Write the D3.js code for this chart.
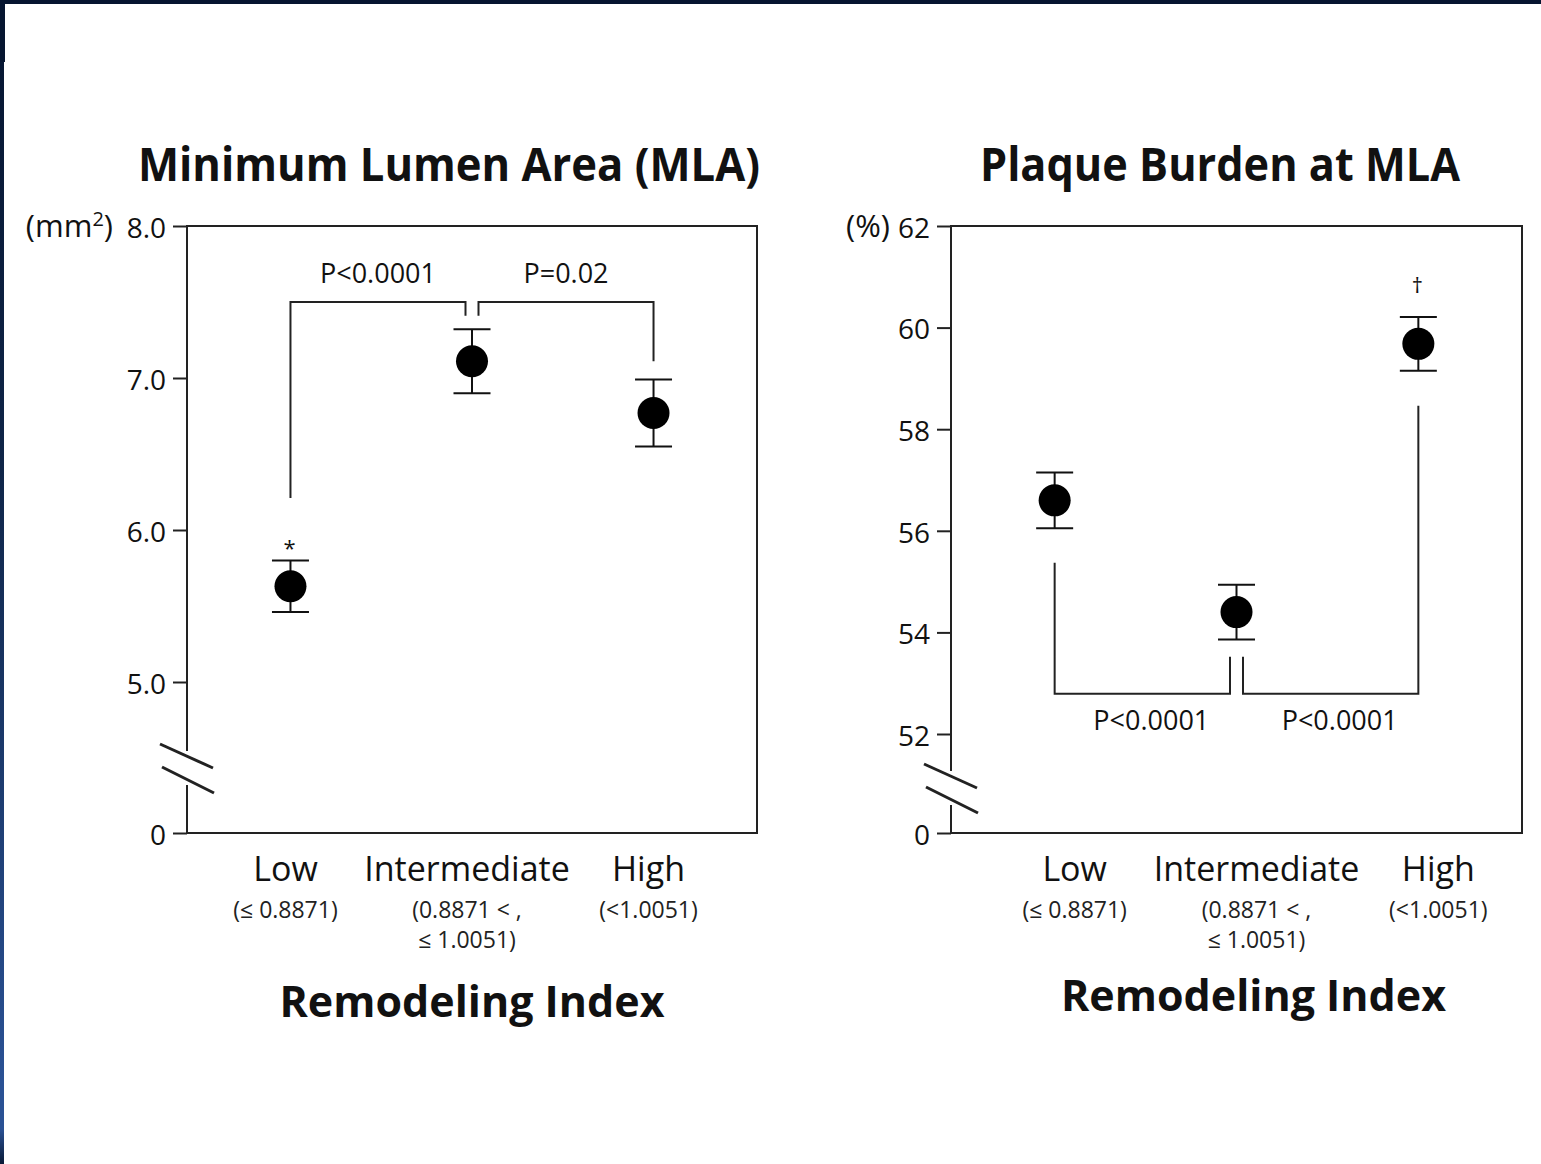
<!DOCTYPE html>
<html>
<head>
<meta charset="utf-8">
<script src="https://cdn.jsdelivr.net/npm/d3@7"></script>
<style>
  body { margin: 0; background: #fff; }
  text { font-family: "Open Sans", "Noto Sans", sans-serif; fill: #111; }
</style>
</head>
<body>
<div id="chart"></div>
<script>
const W = 1541, H = 1164;

// categories shared by both panels
const categories = ["Low", "Intermediate", "High"];
const catRanges = [["(\u2264 0.8871)"], ["(0.8871 < ,", "\u2264 1.0051)"], ["(<1.0051)"]];

// Minimum lumen area (mm2), mean and error
const mlaMean = [5.63, 7.11, 6.77];
const mlaErr = [0.17, 0.21, 0.22];
const mlaMarks = ["*", "", ""];
const mlaTicks = [0, 5, 6, 7, 8];
const mlaTickLabels = ["0", "5.0", "6.0", "7.0", "8.0"];

// Plaque burden at MLA (%), mean and error
const pbMean = [56.6, 54.4, 59.68];
const pbErr = [0.55, 0.54, 0.53];
const pbMarks = ["", "", "\u2020"];
const pbTicks = [0, 52, 54, 56, 58, 60, 62];
const pbTickLabels = ["0", "52", "54", "56", "58", "60", "62"];

// p-value brackets (values in data units)
const mlaBrackets = [
  { a: "Low", b: "Intermediate", footA: 6.21, footB: 7.41, bar: 7.5, label: "P<0.0001" },
  { a: "Intermediate", b: "High", footA: 7.41, footB: 7.11, bar: 7.5, label: "P=0.02" }
];
const pbBrackets = [
  { a: "Low", b: "Intermediate", footA: 55.37, footB: 53.52, bar: 52.79, label: "P<0.0001" },
  { a: "Intermediate", b: "High", footA: 53.52, footB: 58.46, bar: 52.79, label: "P<0.0001" }
];

const svg = d3.select("#chart").append("svg")
    .attr("width", W)
    .attr("height", H);

// slide frame
const defs = svg.append("defs");
const grad = defs.append("linearGradient").attr("id", "edge").attr("x1", 0).attr("y1", 0).attr("x2", 0).attr("y2", 1);
grad.append("stop").attr("offset", "0%").attr("stop-color", "#061530");
grad.append("stop").attr("offset", "40%").attr("stop-color", "#0f2548");
grad.append("stop").attr("offset", "93%").attr("stop-color", "#2a5194");
grad.append("stop").attr("offset", "97%").attr("stop-color", "#2a5194");
grad.append("stop").attr("offset", "100%").attr("stop-color", "#0a1a36");
svg.append("rect").attr("x", 0).attr("y", 0).attr("width", 4).attr("height", H).attr("fill", "url(#edge)");
svg.append("rect").attr("x", 0).attr("y", 0).attr("width", 5).attr("height", 62).attr("fill", "#061530");
svg.append("rect").attr("x", 0).attr("y", 0).attr("width", W).attr("height", 4).attr("fill", "#061530");

const panels = [
  {
    left: 187, top: 226, width: 570, height: 607,
    domain: [0, 5, 8], range: [607, 456, 0],
    ticks: mlaTicks, tickLabels: mlaTickLabels,
    mean: mlaMean, err: mlaErr, marks: mlaMarks, brackets: mlaBrackets,
    bracketLabelDy: -19, bracketLabelDx: 0,
    title: "Minimum Lumen Area (MLA)", titleX: 449, titleLen: 622,
    unit: ["(mm", "2", ")"], unitGap: 74,
    breakUp: 65, labelShift: -5, xTitleShift: 0, xTitleY: 1017
  },
  {
    left: 951, top: 226, width: 571, height: 607,
    domain: [0, 52, 62], range: [607, 508, 0],
    ticks: pbTicks, tickLabels: pbTickLabels,
    mean: pbMean, err: pbErr, marks: pbMarks, brackets: pbBrackets,
    bracketLabelDy: 36, bracketLabelDx: 9,
    title: "Plaque Burden at MLA", titleX: 1220, titleLen: 480,
    unit: ["(%)"], unitGap: 61,
    breakUp: 45, labelShift: 20, xTitleShift: 17, xTitleY: 1011
  }
];

panels.forEach(drawPanel);

function drawPanel(p) {
  const g = svg.append("g").attr("transform", `translate(${p.left},${p.top})`);

  const x = d3.scalePoint().domain(categories).range([0, p.width]).padding(0.57);
  const y = d3.scaleLinear().domain(p.domain).range(p.range);

  // y axis ticks
  const axis = g.append("g")
    .call(d3.axisLeft(y)
      .tickValues(p.ticks)
      .tickFormat((d, i) => p.tickLabels[i])
      .tickSize(14)
      .tickPadding(7));
  axis.select(".domain").remove();
  axis.selectAll(".tick line").attr("stroke", "#222").attr("stroke-width", 2);
  axis.selectAll(".tick text")
    .attr("dy", "0.4em")
    .style("font-family", "'Open Sans', sans-serif")
    .style("font-size", "28px")
    .attr("fill", "#222");

  // frame with the axis break
  const breakY = p.height - p.breakUp;
  const frame = g.append("g").attr("stroke", "#222").attr("stroke-width", 2).attr("fill", "none");
  frame.append("path").attr("d", `M0,${breakY - 17}V0H${p.width}V${p.height}H0V${breakY + 17}`);
  frame.append("line").attr("x1", -27).attr("y1", breakY - 24).attr("x2", 26).attr("y2", breakY)
    .attr("stroke-width", 3);
  frame.append("line").attr("x1", -25).attr("y1", breakY - 1).attr("x2", 27).attr("y2", breakY + 25)
    .attr("stroke-width", 3);

  // unit label
  const unit = g.append("text")
    .attr("x", -p.unitGap)
    .attr("y", 11)
    .attr("text-anchor", "end")
    .style("font-size", "31px")
    .text(p.unit[0]);
  if (p.unit.length > 1) {
    unit.append("tspan").attr("dy", -11).style("font-size", "20px").text(p.unit[1]);
    unit.append("tspan").attr("dy", 11).text(p.unit[2]);
  }

  // title
  g.append("text")
    .attr("x", p.titleX - p.left)
    .attr("y", -45)
    .attr("text-anchor", "middle")
    .attr("textLength", p.titleLen)
    .attr("lengthAdjust", "spacingAndGlyphs")
    .style("font-size", "47px")
    .style("font-weight", "bold")
    .text(p.title);

  // brackets
  p.brackets.forEach(b => {
    const xa = b.a === "Intermediate" ? x(b.a) + 6.5 : x(b.a);
    const xb = b.b === "Intermediate" ? x(b.b) - 6.5 : x(b.b);
    g.append("path")
      .attr("d", `M${xa},${y(b.footA)}V${y(b.bar)}H${xb}V${y(b.footB)}`)
      .attr("fill", "none")
      .attr("stroke", "#222")
      .attr("stroke-width", 2);
    g.append("text")
      .attr("x", (xa + xb) / 2 + p.bracketLabelDx)
      .attr("y", y(b.bar) + p.bracketLabelDy)
      .attr("text-anchor", "middle")
      .style("font-size", "27px")
      .attr("fill", "#222")
      .text(b.label);
  });

  // error bars and points
  const pts = g.selectAll(".pt")
    .data(categories.map((c, i) => ({ c: c, m: p.mean[i], e: p.err[i], mark: p.marks[i] })))
    .enter().append("g").attr("class", "pt");

  pts.append("line")
    .attr("x1", d => x(d.c)).attr("x2", d => x(d.c))
    .attr("y1", d => y(d.m + d.e)).attr("y2", d => y(d.m - d.e))
    .attr("stroke", "#111").attr("stroke-width", 2);
  pts.append("line")
    .attr("x1", d => x(d.c) - 18.5).attr("x2", d => x(d.c) + 18.5)
    .attr("y1", d => y(d.m + d.e)).attr("y2", d => y(d.m + d.e))
    .attr("stroke", "#111").attr("stroke-width", 2);
  pts.append("line")
    .attr("x1", d => x(d.c) - 18.5).attr("x2", d => x(d.c) + 18.5)
    .attr("y1", d => y(d.m - d.e)).attr("y2", d => y(d.m - d.e))
    .attr("stroke", "#111").attr("stroke-width", 2);
  pts.append("circle")
    .attr("cx", d => x(d.c))
    .attr("cy", d => y(d.m))
    .attr("r", 16)
    .attr("fill", "#000");
  pts.filter(d => d.mark).append("text")
    .attr("x", d => x(d.c) - 1)
    .attr("y", d => y(d.m + d.e) + (d.mark === "*" ? -4 : -24))
    .attr("text-anchor", "middle")
    .style("font-size", "22px")
    .text(d => d.mark);

  // category labels
  const lab = g.selectAll(".cat")
    .data(categories)
    .enter().append("text")
    .attr("class", "cat")
    .attr("x", d => x(d) + p.labelShift)
    .attr("y", 881 - p.top)
    .attr("text-anchor", "middle")
    .style("font-size", "34px");
  lab.append("tspan").text(d => d);
  lab.each(function (d, i) {
    catRanges[i].forEach((s, j) => {
      d3.select(this).append("tspan")
        .attr("x", x(d) + p.labelShift)
        .attr("y", 881 - p.top + 37 + j * 30)
        .style("font-size", "23px")
        .attr("fill", "#222")
        .text(s);
    });
  });

  // x axis title
  g.append("text")
    .attr("x", p.width / 2 + p.xTitleShift)
    .attr("y", p.xTitleY - p.top)
    .attr("text-anchor", "middle")
    .attr("textLength", 385)
    .attr("lengthAdjust", "spacingAndGlyphs")
    .style("font-size", "43px")
    .style("font-weight", "bold")
    .text("Remodeling Index");
}
</script>
</body>
</html>
